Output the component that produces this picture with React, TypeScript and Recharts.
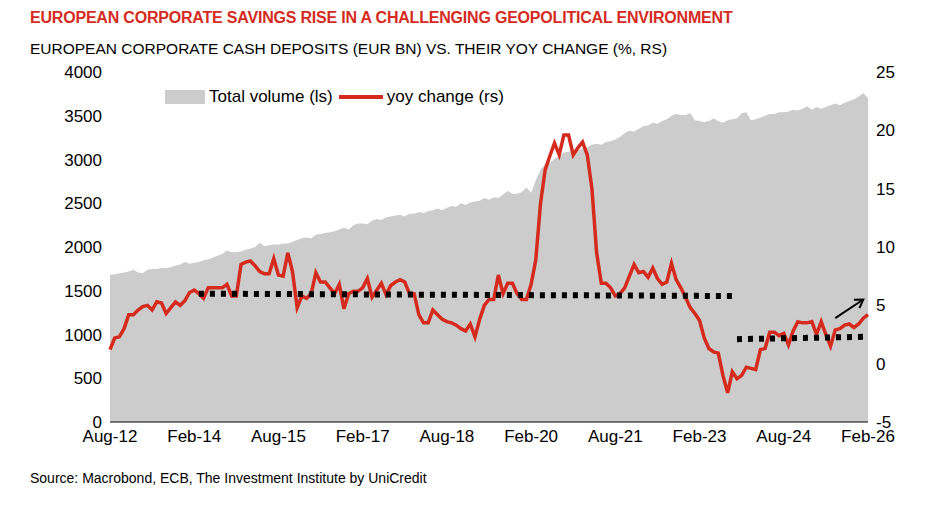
import { ComposedChart, Area, Line, XAxis, YAxis, ReferenceLine } from "recharts";

const MONTHS = ["Jan", "Feb", "Mar", "Apr", "May", "Jun", "Jul", "Aug", "Sep", "Oct", "Nov", "Dec"];

const totalVolume = [
  1680, 1690, 1700, 1710, 1720, 1740, 1710, 1700, 1740, 1750, 1750, 1760, 1760, 1770, 1790, 1800, 1830, 1810, 1820,
  1830, 1850, 1860, 1880, 1900, 1920, 1960, 1940, 1940, 1950, 1970, 1980, 2000, 2050, 2010, 2020, 2030, 2030,
  2040, 2040, 2060, 2080, 2100, 2110, 2100, 2140, 2150, 2160, 2170, 2180, 2200, 2220, 2200, 2250, 2270, 2270,
  2260, 2300, 2320, 2310, 2340, 2350, 2360, 2370, 2350, 2380, 2380, 2400, 2390, 2410, 2420, 2440, 2420, 2450,
  2470, 2460, 2500, 2480, 2510, 2520, 2530, 2560, 2540, 2570, 2560, 2600, 2640, 2610, 2610, 2630, 2680, 2620,
  2760, 2880, 2950, 2960, 3010, 3040, 3080, 3090, 3110, 3100, 3130, 3140, 3170, 3180, 3170, 3200, 3210, 3230,
  3260, 3300, 3330, 3320, 3350, 3380, 3390, 3420, 3410, 3440, 3460, 3500, 3520, 3510, 3510, 3530, 3450, 3440,
  3430, 3440, 3470, 3440, 3420, 3450, 3460, 3470, 3530, 3540, 3450, 3460, 3480, 3500, 3520, 3520, 3540, 3540,
  3550, 3570, 3560, 3580, 3610, 3570, 3600, 3580, 3600, 3620, 3640, 3620, 3650, 3670, 3690, 3720, 3760, 3700,
];

const yoyChange = [
  1.2, 2.2, 2.3, 3.0, 4.2, 4.2, 4.6, 4.9, 5.0, 4.6, 5.3, 5.2, 4.3, 4.8, 5.3, 5.0, 5.4, 6.1, 6.3,
  6.0, 5.6, 6.5, 6.5, 6.5, 6.5, 6.8, 5.8, 5.8, 8.5, 8.7, 8.8, 8.4, 7.9, 7.7, 7.7, 9.0, 7.6,
  7.5, 9.5, 7.9, 4.8, 5.8, 5.6, 6.0, 7.8, 7.0, 7.0, 6.5, 6.0, 6.8, 4.7, 6.0, 6.2, 6.2, 6.5,
  7.3, 5.7, 6.3, 6.9, 5.9, 6.7, 7.0, 7.2, 7.0, 6.0, 6.0, 4.2, 3.5, 3.5, 4.6, 4.2, 3.8, 3.6,
  3.5, 3.3, 3.0, 2.8, 3.4, 2.3, 3.8, 5.0, 5.5, 5.5, 7.6, 6.0, 6.9, 6.9, 6.0, 5.5, 5.5, 6.8,
  8.9, 13.7, 16.6, 17.8, 18.9, 17.9, 19.6, 19.6, 17.9, 18.5, 19.0, 17.9, 15.0, 9.5, 6.9, 6.9, 6.5, 5.8,
  6.0, 6.5, 7.5, 8.5, 7.8, 7.9, 7.4, 8.2, 7.3, 6.8, 7.0, 8.6, 7.2, 6.5, 5.7, 4.8, 4.3, 3.7,
  2.2, 1.3, 1.0, 0.9, -1.0, -2.5, -0.7, -1.3, -1.0, -0.3, -0.4, -0.5, 1.2, 1.3, 2.7, 2.7, 2.4, 2.6,
  1.6, 2.8, 3.6, 3.5, 3.5, 3.6, 2.5, 3.6, 2.5, 1.5, 2.9, 3.0, 3.3, 3.4, 3.1, 3.4, 3.9, 4.2,
];

// month labels starting Aug-12
const dates = totalVolume.map((_, i) => {
  const m = 7 + i;
  return `${MONTHS[m % 12]}-${String(12 + Math.floor(m / 12)).padStart(2, "0")}`;
});

const data = dates.map((d, i) => ({ date: d, volume: totalVolume[i], yoy: yoyChange[i] }));

const font = "'Liberation Sans', Arial, sans-serif";
const tick = { fill: "#000", fontSize: 17, fontFamily: font };

export default function App() {
  return (
    <div style={{ position: "relative", width: 948, height: 508, margin: -8, background: "#fff", fontFamily: font }}>
      <div style={{ position: "absolute", left: 30, top: 9, color: "#d52b1e", fontWeight: 700, fontSize: 16, letterSpacing: -0.2 }}>
        EUROPEAN CORPORATE SAVINGS RISE IN A CHALLENGING GEOPOLITICAL ENVIRONMENT
      </div>
      <div style={{ position: "absolute", left: 30, top: 40, fontSize: 15.5 }}>
        EUROPEAN CORPORATE CASH DEPOSITS (EUR BN) VS. THEIR YOY CHANGE (%, RS)
      </div>
      <div style={{ position: "absolute", left: 165, top: 87, fontSize: 17, display: "flex", alignItems: "center", zIndex: 2 }}>
        <span style={{ width: 40, height: 14, background: "#cccccc", marginRight: 4 }} />
        Total volume (ls)
        <span style={{ width: 44, height: 4, background: "#d52b1e", margin: "0 4px 0 6px" }} />
        yoy change (rs)
      </div>
      <div style={{ position: "absolute", left: 30, top: 470, fontSize: 14 }}>
        Source: Macrobond, ECB, The Investment Institute by UniCredit
      </div>
      <div style={{ position: "absolute", left: 0, top: 60 }}>
        <ComposedChart width={948} height={400} data={data} margin={{ top: 12, right: 0, bottom: 8, left: 0 }}>
          <defs>
            <marker id="arr" markerWidth="12" markerHeight="12" refX="9" refY="6" orient="auto" markerUnits="userSpaceOnUse">
              <path d="M1,1 L9,6 L1,11" fill="none" stroke="#000" strokeWidth={2} />
            </marker>
          </defs>
          <XAxis dataKey="date" interval={17} tick={tick} tickLine={false} axisLine={{ stroke: "#000" }} height={30} />
          <YAxis yAxisId="l" domain={[0, 4000]} ticks={[0, 500, 1000, 1500, 2000, 2500, 3000, 3500, 4000]} width={110}
            tick={tick} axisLine={false} tickLine={false} />
          <YAxis yAxisId="r" orientation="right" domain={[-5, 25]} ticks={[-5, 0, 5, 10, 15, 20, 25]} width={80}
            tick={tick} axisLine={false} tickLine={false} />
          <Area yAxisId="l" dataKey="volume" stroke="none" fill="#cccccc" fillOpacity={1} isAnimationActive={false} />
          <Line yAxisId="r" dataKey="yoy" stroke="#d52b1e" strokeWidth={3.5} dot={false} isAnimationActive={false} />
          <ReferenceLine yAxisId="r" segment={[{ x: dates[19], y: 6.0 }, { x: dates[133], y: 5.8 }]}
            stroke="#000" strokeWidth={6} strokeDasharray="5 6" />
          <ReferenceLine yAxisId="r" segment={[{ x: dates[134], y: 2.1 }, { x: dates[161], y: 2.3 }]}
            stroke="#000" strokeWidth={6} strokeDasharray="5 6" />
          <ReferenceLine yAxisId="r" segment={[{ x: dates[155], y: 3.9 }, { x: dates[161], y: 5.5 }]}
            stroke="#000" strokeWidth={2} markerEnd="url(#arr)" />
        </ComposedChart>
      </div>
    </div>
  );
}
